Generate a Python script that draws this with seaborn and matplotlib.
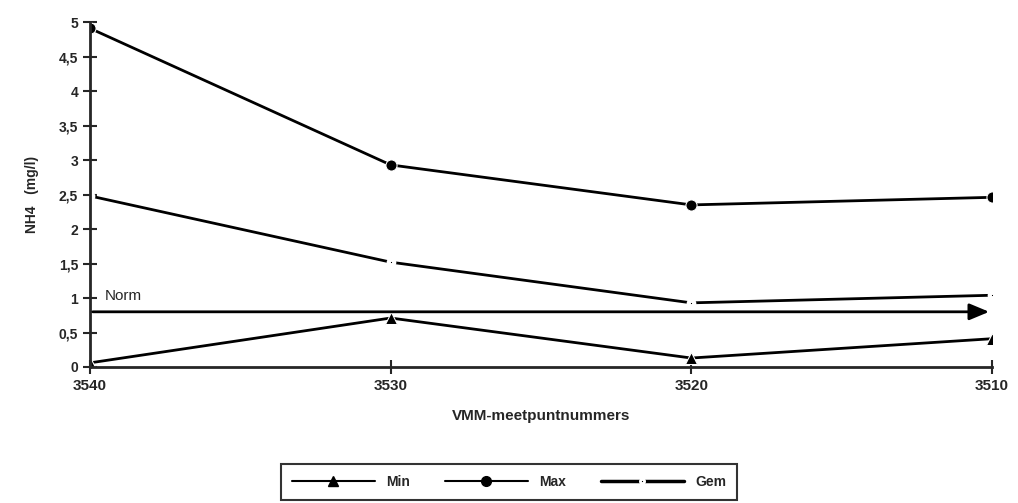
'''
NH4 concentrations per VMM measuring point (min / max / mean) with the norm.
'''
import matplotlib
matplotlib.use('Agg')
import matplotlib.pyplot as plt
import pandas as pd
import seaborn as sns

meetpunten = ['3540', '3530', '3520', '3510']
nh4_min = [0.06, 0.71, 0.13, 0.41]
nh4_max = [4.91, 2.93, 2.35, 2.46]
nh4_gem = [2.48, 1.52, 0.93, 1.04]
norm = 0.8
yticks = [0, 0.5, 1, 1.5, 2, 2.5, 3, 3.5, 4, 4.5, 5]

sns.set_style('ticks')
plt.rcParams['font.family'] = ['Liberation Sans', 'DejaVu Sans']
plt.rcParams['font.weight'] = 'bold'

pos = list(range(len(meetpunten)))
df = pd.DataFrame({'pos': pos * 2,
                   'value': nh4_min + nh4_max,
                   'serie': ['Min'] * 4 + ['Max'] * 4})
df_gem = pd.DataFrame({'pos': pos, 'value': nh4_gem})

fig = plt.figure(figsize=(10.18, 5.03), dpi=100)
ax = fig.add_axes([0.0884, 0.2704, 0.886, 0.6856])

sns.lineplot(data=df, x='pos', y='value', style='serie', ax=ax,
             color='black', linewidth=2,
             markers={'Min': '^', 'Max': 'o'}, dashes=False,
             markersize=8, legend=False)
# mean: solid line broken at each point, small dot in the gap
sns.lineplot(data=df_gem, x='pos', y='value', ax=ax, color='black',
             linewidth=2, marker='o', markersize=4, markerfacecolor='black',
             markeredgecolor='white', markeredgewidth=3, legend=False)

# norm line with arrow
ax.annotate('', xy=(pos[-1], norm), xytext=(pos[0], norm),
            arrowprops=dict(arrowstyle='-|>,head_length=1.2,head_width=0.5',
                            color='black', lw=2))
ax.text(0.05, 0.93, 'Norm', fontsize=11, fontweight='normal',
        ha='left', va='bottom')

ax.set_xlim(pos[0], pos[-1])
ax.set_ylim(0, 5)
ax.set_xticks(pos)
ax.set_xticklabels(meetpunten, fontsize=11)
ax.set_yticks(yticks)
ax.set_yticklabels([f'{t:g}'.replace('.', ',') for t in yticks], fontsize=10)
ax.tick_params(axis='y', direction='inout', length=10, width=1.5)
ax.tick_params(axis='x', direction='inout', length=10, width=1.5)
for s in ['top', 'right']:
    ax.spines[s].set_visible(False)
for s in ['left', 'bottom']:
    ax.spines[s].set_linewidth(2)

ax.set_xlabel('VMM-meetpuntnummers', fontsize=11, fontweight='bold', labelpad=12)
ax.set_ylabel('NH4   (mg/l)', fontsize=10, fontweight='bold', labelpad=14)

# legend
handles = [
    plt.Line2D([], [], color='black', lw=1.5, marker='^', markersize=7),
    plt.Line2D([], [], color='black', lw=1.5, marker='o', markersize=7),
    plt.Line2D([], [], color='black', lw=2.5, marker='o', markersize=3,
               markeredgecolor='white', markeredgewidth=2),
]
leg = fig.legend(handles, ['Min', 'Max', 'Gem'], loc='center',
                 bbox_to_anchor=(0.5, 0.042), ncol=3, frameon=True,
                 fancybox=False, edgecolor='black', fontsize=10,
                 handlelength=6, columnspacing=2.5, borderpad=0.8)
leg.get_frame().set_linewidth(1.5)

fig.savefig('out.png', dpi=100)
